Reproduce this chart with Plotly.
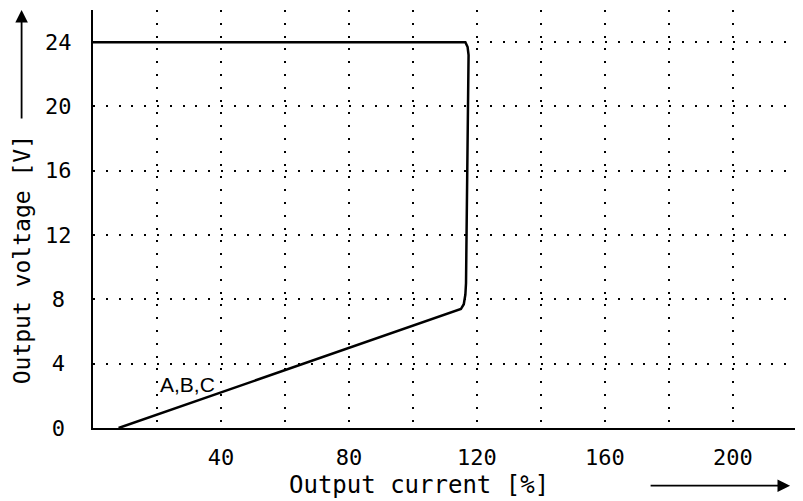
import plotly.graph_objects as go

# Data
current_pct = [8, 115, 115.9, 116.4, 116.6, 117.4, 117.1, 116.4, 0]
voltage_v = [0, 7.4, 7.7, 8.3, 9.0, 23.2, 23.7, 24.0, 24.0]

x_grid_vals = [20, 40, 60, 80, 100, 120, 140, 160, 180, 200, 220]
x_tick_text = ["", "40", "", "80", "", "120", "", "160", "", "200", ""]
y_tick_vals = [0, 4, 8, 12, 16, 20, 24]
y_tick_text = ["0", "4", "8", "12", "16", "20", "24"]

curve_label = "A,B,C"
curve_label_pos = (29.5, 2.7)

FONT = "DejaVu Sans Mono"

# centre the y labels like the plotter lettering: pad single digits by half a character
pad = "<span style='font-size:11px'>\u00a0</span>"
y_tick_disp = [t + pad if len(t) == 1 else t for t in y_tick_text]

fig = go.Figure()
fig.add_trace(go.Scatter(
    x=current_pct, y=voltage_v, mode="lines",
    line=dict(color="black", width=2.5),
    hoverinfo="skip", showlegend=False,
))

fig.add_annotation(x=curve_label_pos[0], y=curve_label_pos[1], text=curve_label,
                   showarrow=False, xanchor="center", yanchor="middle",
                   font=dict(family="Liberation Sans", size=21, color="black"))

# Axis titles
fig.add_annotation(xref="paper", yref="paper", x=0.461, y=-0.136,
                   xanchor="center", yanchor="middle",
                   text="Output current [%]", showarrow=False,
                   font=dict(family=FONT, size=24, color="black"))
fig.add_annotation(xref="paper", yref="paper", x=-0.100, y=0.402,
                   xanchor="center", yanchor="middle",
                   text="Output voltage [V]", textangle=-90, showarrow=False,
                   font=dict(family=FONT, size=23, color="black"))
# Direction arrows
fig.add_annotation(xref="paper", yref="paper", x=0.986, y=-0.138, text="",
                   showarrow=True, ax=-141, ay=0, arrowhead=2, arrowsize=1.4,
                   arrowwidth=1.8, arrowcolor="black")
fig.add_annotation(xref="paper", yref="paper", x=-0.101, y=1.0, text="",
                   showarrow=True, ax=0, ay=110, arrowhead=2, arrowsize=1.4,
                   arrowwidth=1.8, arrowcolor="black")

fig.update_xaxes(
    range=[0, 221], tickmode="array", tickvals=x_grid_vals, ticktext=x_tick_text,
    showgrid=True, gridcolor="black", gridwidth=1.8, griddash="2px,10.8px",
    showline=True, linecolor="black", linewidth=2, zeroline=False, ticks="",
    tickfont=dict(family=FONT, size=22, color="black"), ticklabelstandoff=9,
    automargin=False,
)
fig.update_yaxes(
    range=[0, 26], tickmode="array", tickvals=y_tick_vals, ticktext=y_tick_disp,
    showgrid=True, gridcolor="black", gridwidth=1.8, griddash="2px,10.8px",
    showline=True, linecolor="black", linewidth=2, zeroline=False, ticks="",
    tickfont=dict(family=FONT, size=22, color="black"), ticklabelstandoff=15,
    automargin=False,
)
fig.update_layout(
    width=795, height=493,
    margin=dict(l=85, r=3, t=2, b=73, autoexpand=False),
    paper_bgcolor="white", plot_bgcolor="white",
    showlegend=False,
)
fig.write_html("out.html")
